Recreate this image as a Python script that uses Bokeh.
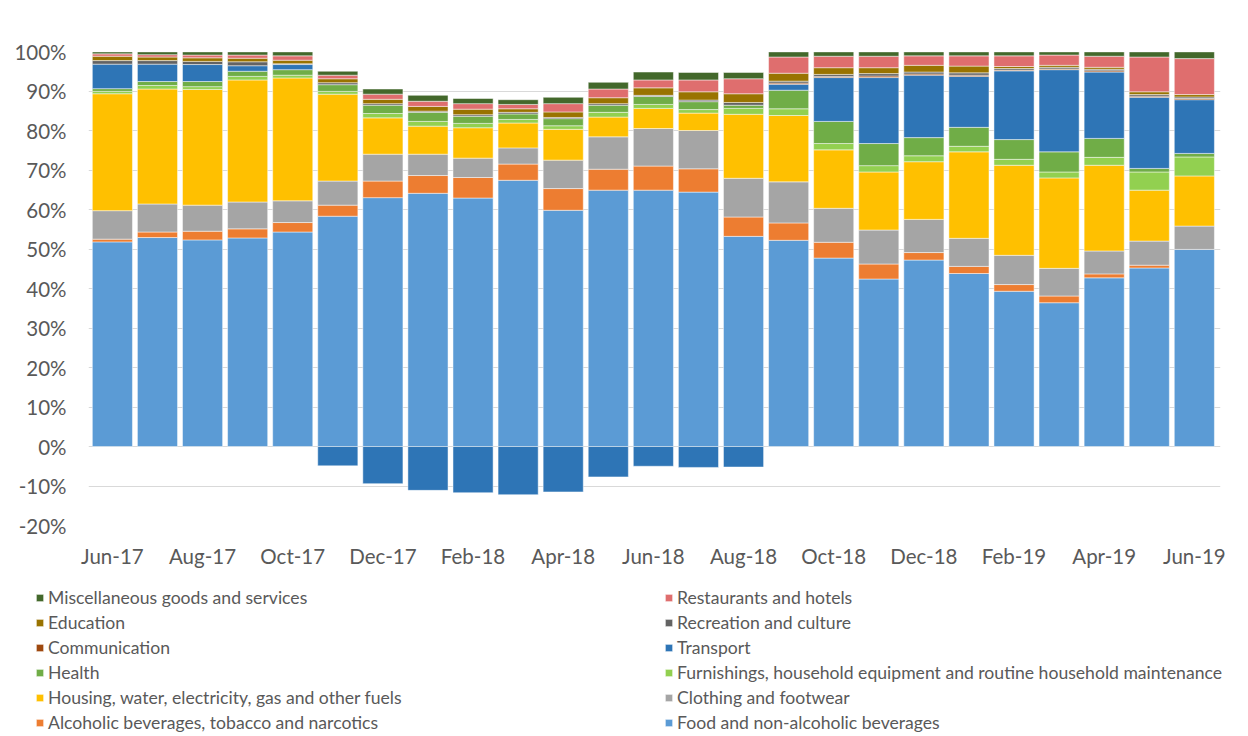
from bokeh.plotting import figure
from bokeh.models import (ColumnDataSource, Range1d, FixedTicker, Legend, LegendItem,
                          PrintfTickFormatter)
from bokeh.embed import file_html
from bokeh.resources import INLINE

months = ["Jun-17", "Jul-17", "Aug-17", "Sep-17", "Oct-17", "Nov-17", "Dec-17", "Jan-18",
          "Feb-18", "Mar-18", "Apr-18", "May-18", "Jun-18", "Jul-18", "Aug-18", "Sep-18",
          "Oct-18", "Nov-18", "Dec-18", "Jan-19", "Feb-19", "Mar-19", "Apr-19", "May-19", "Jun-19"]

food = [51.8, 52.9, 52.3, 52.8, 54.3, 58.3, 63.0, 64.1, 62.9, 67.4, 59.8, 64.9, 64.9, 64.4, 53.2,
        52.2, 47.7, 42.4, 47.2, 43.8, 39.3, 36.4, 42.7, 45.2, 49.9]
alcohol = [0.7, 1.4, 2.2, 2.3, 2.4, 2.8, 4.2, 4.5, 5.2, 4.1, 5.5, 5.3, 6.1, 5.9, 4.9,
           4.4, 4.0, 3.8, 1.9, 1.8, 1.7, 1.7, 1.0, 0.7, 0.0]
clothing = [7.2, 7.1, 6.6, 6.8, 5.5, 6.1, 6.8, 5.4, 4.9, 4.1, 7.2, 8.2, 9.5, 9.7, 9.8,
            10.4, 8.6, 8.6, 8.4, 7.1, 7.4, 7.0, 5.8, 6.1, 5.9]
housing = [29.6, 29.1, 29.3, 30.9, 31.1, 22.0, 9.2, 7.1, 7.7, 6.3, 7.8, 5.0, 5.1, 4.4, 16.2,
           16.8, 14.8, 14.7, 14.6, 21.9, 22.8, 22.9, 21.7, 12.9, 12.7]
furnishings = [0.6, 0.9, 0.7, 0.9, 0.7, 0.7, 1.1, 1.2, 1.1, 0.9, 0.9, 1.2, 1.0, 0.9, 1.5,
               1.7, 1.6, 1.6, 1.5, 1.4, 1.5, 1.5, 2.0, 4.6, 4.8]
health = [0.7, 1.0, 1.3, 1.3, 1.4, 1.7, 2.1, 2.3, 1.8, 1.4, 1.8, 1.8, 2.0, 2.0, 0.8,
          4.7, 5.6, 5.6, 4.6, 4.8, 5.0, 5.1, 4.8, 0.9, 0.9]
transport = [6.2, 4.4, 4.3, 1.4, 1.3, -4.9, -9.4, -11.1, -11.7, -12.2, -11.5, -7.7, -5.0, -5.3, -5.2,
             1.5, 11.1, 16.7, 15.8, 12.9, 17.4, 20.8, 16.8, 18.0, 13.6]
communication = [0, 0, 0, 0, 0, 0, 0, 0, 0, 0, 0, 0, 0, 0, 0,
                 0.3, 0.3, 0.4, 0.3, 0.3, 0.2, 0.2, 0.3, 0.3, 0.3]
recreation = [0.9, 0.9, 0.8, 1.0, 0.2, 0.5, 0.4, 0.3, 0.4, 0.4, 0.3, 0.4, 0.3, 0.4, 0.7,
              0.5, 0.5, 0.6, 0.5, 0.6, 0.4, 0.4, 0.4, 0.4, 0.4]
education = [1.1, 0.9, 0.9, 0.9, 0.9, 1.0, 1.1, 1.2, 1.4, 0.9, 1.4, 1.5, 1.9, 2.1, 2.2,
             2.0, 1.7, 1.5, 1.7, 1.7, 0.5, 0.5, 0.5, 0.7, 0.6]
restaurants = [0.6, 0.6, 0.7, 0.8, 1.1, 0.9, 1.3, 1.3, 1.4, 1.1, 2.1, 2.2, 2.0, 3.0, 3.8,
               4.1, 2.9, 2.9, 2.4, 2.6, 2.7, 2.6, 2.8, 8.8, 9.1]
misc = [0.5, 0.7, 0.8, 0.8, 1.0, 1.0, 1.3, 1.5, 1.3, 1.2, 1.6, 1.7, 2.0, 1.9, 1.6,
        1.3, 1.1, 1.1, 1.0, 1.0, 1.0, 0.8, 1.1, 1.3, 1.7]

series_names = ["Food and non-alcoholic beverages",
                "Alcoholic beverages, tobacco and narcotics",
                "Clothing and footwear",
                "Housing, water, electricity, gas and other fuels",
                "Furnishings, household equipment and routine household maintenance",
                "Health", "Transport", "Communication", "Recreation and culture",
                "Education", "Restaurants and hotels", "Miscellaneous goods and services"]
series_values = [food, alcohol, clothing, housing, furnishings, health, transport,
                 communication, recreation, education, restaurants, misc]
series_colors = ["#5B9BD5", "#ED7D31", "#A5A5A5", "#FFC000", "#92D050", "#70AD47",
                 "#2E75B6", "#9E480E", "#636363", "#997300", "#DF6E6E", "#43682B"]

FONT = "Lato"
TXT = "#595959"
H1, H2 = 580, 153

p = figure(width=1232, height=H1, output_backend="svg", toolbar_location=None,
           x_range=Range1d(-0.53, 24.58), y_range=Range1d(-20, 100),
           min_border_left=88, min_border_right=12, min_border_top=51,
           min_border_bottom=H1 - 51 - 474)
p.outline_line_color = None

n = len(months)
pos = [0.0] * n
neg = [0.0] * n
for name, vals, col in zip(series_names, series_values, series_colors):
    xs, bots, tops = [], [], []
    for i, v in enumerate(vals):
        if v == 0:
            continue
        if v > 0:
            b, t = pos[i], pos[i] + v
            pos[i] = t
        else:
            b, t = neg[i] + v, neg[i]
            neg[i] = b
        xs.append(i)
        bots.append(b)
        tops.append(t)
    src = ColumnDataSource(dict(x=xs, bottom=bots, top=tops))
    p.vbar(x="x", bottom="bottom", top="top", width=0.89, source=src,
           fill_color=col, line_color="white", line_width=0.8, line_alpha=0.6)

# axes
p.yaxis.ticker = FixedTicker(ticks=list(range(-20, 101, 10)))
p.yaxis.formatter = PrintfTickFormatter(format="%d%%")
p.xaxis.ticker = FixedTicker(ticks=list(range(0, n, 2)))
p.xaxis.major_label_overrides = {i: months[i] for i in range(0, n, 2)}
for ax in (p.xaxis, p.yaxis):
    ax.axis_line_color = None
    ax.major_tick_line_color = None
    ax.minor_tick_line_color = None
    ax.major_tick_out = 0
    ax.major_tick_in = 0
    ax.minor_tick_out = 0
    ax.major_label_text_font = FONT
    ax.major_label_text_font_size = "20.5px"
    ax.major_label_text_color = TXT
p.yaxis.major_label_standoff = 22
p.xaxis.major_label_standoff = 18

p.xgrid.grid_line_color = None
p.ygrid.ticker = FixedTicker(ticks=list(range(-20, 101, 10)))
p.ygrid.grid_line_color = "#D9D9D9"
p.ygrid.grid_line_width = 1.2

# legend figure (separate root below the chart)
q = figure(width=1232, height=H2, output_backend="svg", toolbar_location=None,
           x_range=Range1d(0, 1), y_range=Range1d(0, 1),
           x_axis_location=None, y_axis_location=None, min_border=0,
           min_border_left=0, min_border_right=0, min_border_top=0, min_border_bottom=0)
q.outline_line_color = None
q.grid.visible = False
leg_r = {}
for name, col in zip(series_names, series_colors):
    # zero-size placeholder glyph, only used to draw the legend swatch
    leg_r[name] = q.vbar(x=[0], bottom=[0], top=[0], width=0, fill_color=col,
                         line_color="white", line_width=0.8, line_alpha=0.6)

legend_order = ["Miscellaneous goods and services", "Restaurants and hotels",
                "Education", "Recreation and culture",
                "Communication", "Transport",
                "Health", "Furnishings, household equipment and routine household maintenance",
                "Housing, water, electricity, gas and other fuels", "Clothing and footwear",
                "Alcoholic beverages, tobacco and narcotics", "Food and non-alcoholic beverages"]
items = [LegendItem(label=nm, renderers=[leg_r[nm]]) for nm in legend_order]
legend = Legend(items=items, orientation="horizontal", ncols=2,
                location=(35, 0), padding=0, margin=0,
                border_line_color=None, background_fill_alpha=0,
                glyph_width=9, glyph_height=9, label_standoff=4,
                label_height=18, label_width=612, spacing=4,
                label_text_font=FONT, label_text_font_size="17.6px",
                label_text_color=TXT)
q.add_layout(legend, "center")

open("out.html", "w").write(file_html((p, q), INLINE))
